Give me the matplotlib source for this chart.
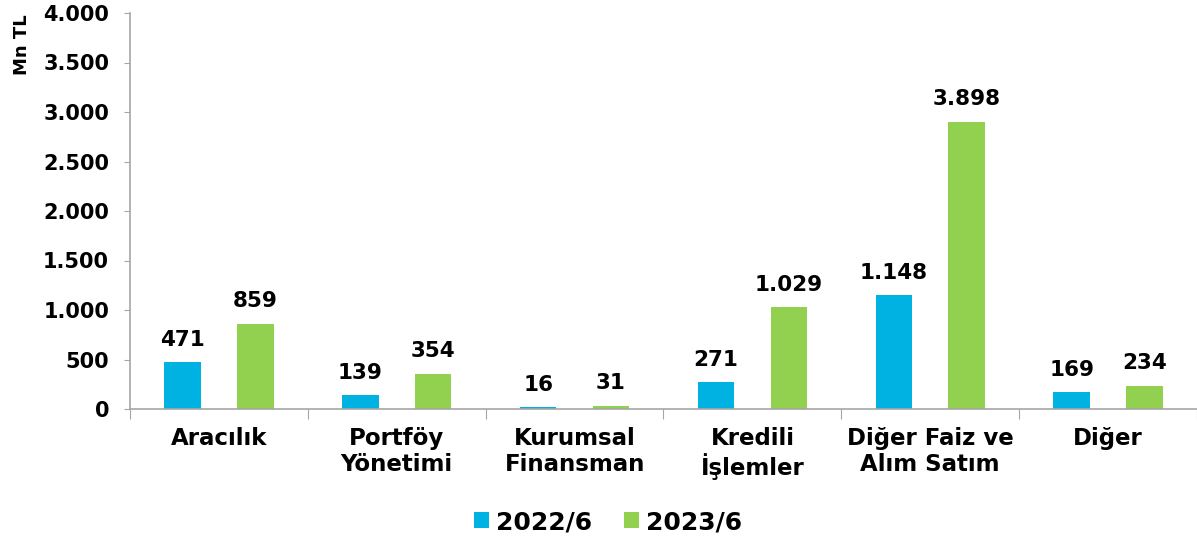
import matplotlib
matplotlib.use('Agg')
import matplotlib.pyplot as plt
import numpy as np

categories = ['Aracılık', 'Portföy\nYönetimi', 'Kurumsal\nFinansman', 'Kredili\nİşlemler',
              'Diğer Faiz ve\nAlım Satım', 'Diğer']
series_names = ['2022/6', '2023/6']
vals_2022 = [471, 139, 16, 271, 1148, 169]
vals_2023 = [859, 354, 31, 1029, 3898, 234]
# bar heights as drawn in the original (the 3.898 bar is drawn at ~2.900)
bars_2022 = [471, 139, 16, 271, 1148, 169]
bars_2023 = [859, 354, 31, 1029, 2900, 234]
yticks = [0, 500, 1000, 1500, 2000, 2500, 3000, 3500, 4000]

colors = ['#00B2E2', '#92D050']
axis_col = '#A6A6A6'


def fmt(v):
    return f'{v:,}'.replace(',', '.')


plt.rcParams['font.family'] = ['DejaVu Sans']
plt.rcParams['font.weight'] = 'bold'

fig = plt.figure(figsize=(11.97, 5.39), dpi=100)
ax = fig.add_axes([130 / 1197, 130 / 539, 1067 / 1197, 396 / 539])

x = np.arange(len(categories))
w = 0.205
off = 0.205
for i, (heights, vals) in enumerate([(bars_2022, vals_2022), (bars_2023, vals_2023)]):
    pos = x + (i * 2 - 1) * off
    ax.bar(pos, heights, width=w, color=colors[i], label=series_names[i], zorder=2)
    for p, h, v in zip(pos, heights, vals):
        ax.annotate(fmt(v), (p, h), xytext=(0, 9), textcoords='offset points',
                    ha='center', va='bottom', fontsize=15.5, fontweight='bold')

ax.set_xlim(-0.5, len(categories) - 0.5)
ax.set_ylim(0, 4000)
ax.set_yticks(yticks)
ax.set_yticklabels([fmt(t) for t in yticks], fontsize=15, fontweight='bold')

ax.set_xticks(np.arange(len(categories) + 1) - 0.5)
ax.set_xticklabels([])
ax.set_xticks(x, categories, minor=True)
ax.tick_params(axis='x', which='major', length=7, color=axis_col, direction='out')
ax.tick_params(axis='x', which='minor', length=0, pad=13, labelsize=16.5)
for lab in ax.get_xticklabels(minor=True):
    lab.set_fontweight('bold')
    lab.set_linespacing(1.15)
ax.tick_params(axis='y', length=4, color=axis_col, pad=11)

for s in ['top', 'right']:
    ax.spines[s].set_visible(False)
for s in ['left', 'bottom']:
    ax.spines[s].set_color(axis_col)
    ax.spines[s].set_linewidth(1.2)

fig.text(22 / 1197, 1 - 45 / 539, 'Mn TL', rotation=90, ha='center', va='center',
         fontsize=13, fontweight='bold')

leg = fig.legend(loc='center', bbox_to_anchor=(608 / 1197, 1 - 522 / 539), ncol=2,
                 frameon=False, fontsize=18, handlelength=0.6, handleheight=0.6,
                 handletextpad=0.25, columnspacing=1.3)
for t in leg.get_texts():
    t.set_fontweight('bold')

fig.savefig('out.png', dpi=100)
